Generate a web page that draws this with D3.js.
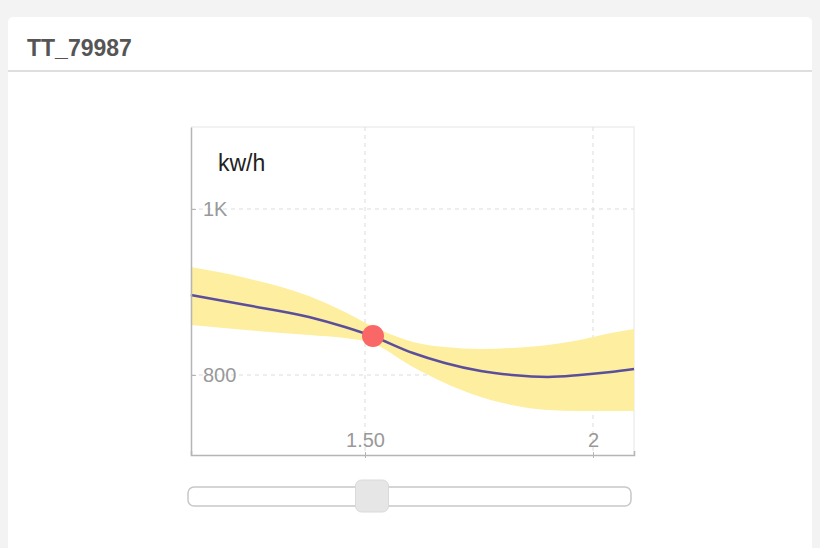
<!DOCTYPE html>
<html>
<head>
<meta charset="utf-8">
<script src="https://cdn.jsdelivr.net/npm/d3@7"></script>
<style>
  html, body { margin: 0; padding: 0; background: #f3f3f3; }
  body { width: 820px; height: 548px; overflow: hidden; font-family: "Liberation Sans", Arial, Helvetica, sans-serif; }
</style>
</head>
<body>
<svg id="chart" width="820" height="548"></svg>
<script>
// Sensor TT_79987: predicted energy use (mean and uncertainty band) versus setting
const title = "TT_79987";
const unitLabel = "kw/h";
const xs     = [1.118, 1.239, 1.377, 1.456, 1.515, 1.605, 1.675, 1.754, 1.822, 1.901, 1.971, 2.039, 2.090];
const mean   = [896.4, 884.3, 869.9, 857.8, 847.0, 826.5, 814.5, 804.8, 800.0, 797.6, 800.0, 803.6, 807.2];
const upper  = [930.1, 916.9, 895.2, 875.9, 859.0, 839.8, 833.7, 831.3, 832.5, 836.1, 842.2, 850.6, 855.4];
const lower  = [860.2, 854.2, 848.2, 844.6, 838.6, 809.6, 790.4, 773.5, 763.9, 757.8, 756.6, 756.6, 756.6];
const xTicks = [1.5, 2];
const xTickLabels = ["1.50", "2"];
const yTicks = [800, 1000];
const yTickLabels = ["800", "1K"];
const xDomain = [1.1184, 2.0899];
const yDomain = [703.6, 1098.8];
const current = { x: 1.5175, y: 847.0 };

const svg = d3.select("#chart");
const FONT = "Liberation Sans, Arial, Helvetica, sans-serif";

// card
svg.append("rect").attr("x", 8).attr("y", 17).attr("width", 804).attr("height", 560)
  .attr("rx", 5).attr("fill", "#ffffff");
svg.append("text").attr("x", 27).attr("y", 56).text(title)
  .attr("font-size", 23).attr("font-weight", "bold").attr("fill", "#555")
  .attr("font-family", FONT);
svg.append("rect").attr("x", 8).attr("y", 70).attr("width", 804).attr("height", 2).attr("fill", "#dedede");

// plot region
const L = 191, R = 634, T = 127, B = 455;
const x = d3.scaleLinear().domain(xDomain).range([L, R]);
const y = d3.scaleLinear().domain(yDomain).range([B, T]);

const g = svg.append("g");

// frame (top/right)
g.append("path").attr("d", `M${L},${T}H${R}V${B}`).attr("fill", "none").attr("stroke", "#eeeeee").attr("stroke-width", 1.5);

// grid
g.selectAll(".vgrid").data(xTicks).join("line")
  .attr("x1", d => x(d)).attr("x2", d => x(d)).attr("y1", T).attr("y2", B)
  .attr("stroke", "#dcdcdc").attr("stroke-dasharray", "4,4");
g.selectAll(".hgrid").data(yTicks).join("line")
  .attr("x1", L).attr("x2", R).attr("y1", d => y(d)).attr("y2", d => y(d))
  .attr("stroke", "#dcdcdc").attr("stroke-dasharray", "4,4");

// band and mean line
const pts = xs.map((v, i) => ({ x: v, m: mean[i], u: upper[i], l: lower[i] }));
g.append("path").datum(pts)
  .attr("d", d3.area().x(d => x(d.x)).y0(d => y(d.l)).y1(d => y(d.u)).curve(d3.curveMonotoneX))
  .attr("fill", "#fdef9f");
g.append("path").datum(pts)
  .attr("d", d3.line().x(d => x(d.x)).y(d => y(d.m)).curve(d3.curveMonotoneX))
  .attr("fill", "none").attr("stroke", "#5b4e9c").attr("stroke-width", 2.5);

// axes
const xAxis = d3.axisBottom(x).tickValues(xTicks)
  .tickFormat((d, i) => xTickLabels[i]).tickSizeInner(3).tickSizeOuter(-4);
const xg = g.append("g").attr("transform", `translate(0,${B})`).call(xAxis);
xg.select(".domain").attr("stroke", "#b5b5b5").attr("stroke-width", 1.5);
xg.selectAll(".tick line").attr("stroke", "#b5b5b5").attr("y1", -3);
xg.selectAll(".tick text").attr("y", -8).attr("dy", 0).attr("fill", "#999")
  .attr("font-size", 20).attr("font-family", FONT);

const yAxis = d3.axisLeft(y).tickValues(yTicks)
  .tickFormat((d, i) => yTickLabels[i]).tickSizeInner(-5).tickSizeOuter(0);
const yg = g.append("g").attr("transform", `translate(${L},0)`).call(yAxis);
yg.select(".domain").attr("stroke", "#b5b5b5").attr("stroke-width", 1.5);
yg.selectAll(".tick line").attr("stroke", "#b5b5b5");
yg.selectAll(".tick text").attr("x", 12).attr("text-anchor", "start").attr("fill", "#999")
  .attr("font-size", 20).attr("font-family", FONT);

// unit label
g.append("text").attr("x", 218).attr("y", 171).text(unitLabel)
  .attr("font-size", 23).attr("fill", "#222").attr("font-family", FONT);

// current point
g.append("circle").attr("cx", x(current.x)).attr("cy", y(current.y)).attr("r", 11)
  .attr("fill", "#f96767");

// slider
const sg = svg.append("g");
sg.append("rect").attr("x", 188).attr("y", 487).attr("width", 443).attr("height", 19)
  .attr("rx", 6).attr("fill", "#fff").attr("stroke", "#c8c8c8").attr("stroke-width", 1.5);
sg.append("rect").attr("x", x(current.x) - 17.5).attr("y", 480).attr("width", 33).attr("height", 32)
  .attr("rx", 6).attr("fill", "#e6e6e6").attr("stroke", "#dadada").attr("stroke-width", 1);
</script>
</body>
</html>
